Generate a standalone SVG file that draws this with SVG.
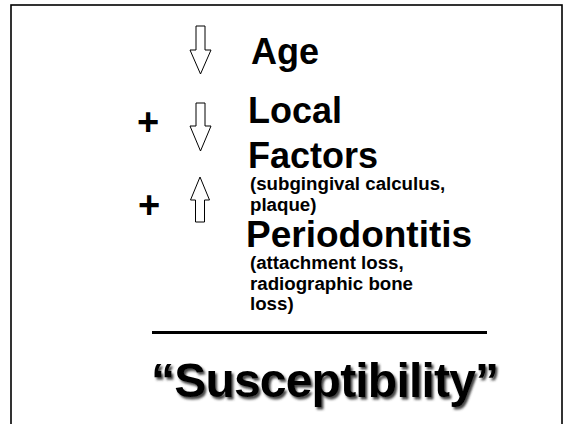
<svg xmlns="http://www.w3.org/2000/svg" width="570" height="424" viewBox="0 0 570 424">
<defs>
<style>
.t{font-family:"Liberation Sans",Arial,sans-serif;font-weight:bold;fill:#000}
.big{font-size:36px}
.small{font-size:18.7px}
.plus{font-size:38px;text-anchor:middle}
.arrow{fill:#fff;stroke:#000;stroke-width:1;stroke-linejoin:miter}
</style>
<filter id="shadow" x="-10%" y="-20%" width="120%" height="150%">
<feDropShadow dx="2" dy="2.5" stdDeviation="1" flood-color="#333" flood-opacity="0.9"/>
</filter>
</defs>
<rect x="0" y="0" width="570" height="424" fill="#fff"/>
<rect id="frame" x="11" y="5" width="551" height="440" fill="none" stroke="#000" stroke-width="1.6"/>
<g id="arrows">
<polygon id="arrow-age" class="arrow" points="196,26 205,26 205,50 211,50 200.5,74 190,50 196,50"/>
<polygon id="arrow-local" class="arrow" points="196,103 205,103 205,126 211,126 200.5,151 190,126 196,126"/>
<polygon id="arrow-perio" class="arrow" points="200,177 209.5,200 204.5,200 204.5,222 195.5,222 195.5,200 190.5,200"/>
</g>
<g id="plus-1"><text class="t plus" x="148" y="135">+</text></g>
<g id="plus-2"><text class="t plus" x="149" y="218">+</text></g>
<g id="age"><text class="t big" x="251" y="64">Age</text></g>
<g id="local-factors">
<text class="t big" x="248" y="123">Local</text>
<text class="t big" x="248" y="168">Factors</text>
<text class="t small" x="250" y="190">(subgingival calculus,</text>
<text class="t small" x="250" y="211">plaque)</text>
</g>
<g id="periodontitis">
<text class="t big" x="246" y="247" style="font-size:37px">Periodontitis</text>
<text class="t small" x="250" y="269">(attachment loss,</text>
<text class="t small" x="250" y="290">radiographic bone</text>
<text class="t small" x="250" y="310">loss)</text>
</g>
<line id="divider" x1="152" y1="332.5" x2="487" y2="332.5" stroke="#000" stroke-width="3"/>
<g id="susceptibility"><text class="t" x="151" y="397" style="font-size:48px;letter-spacing:-0.8px" filter="url(#shadow)">“Susceptibility”</text></g>
</svg>
